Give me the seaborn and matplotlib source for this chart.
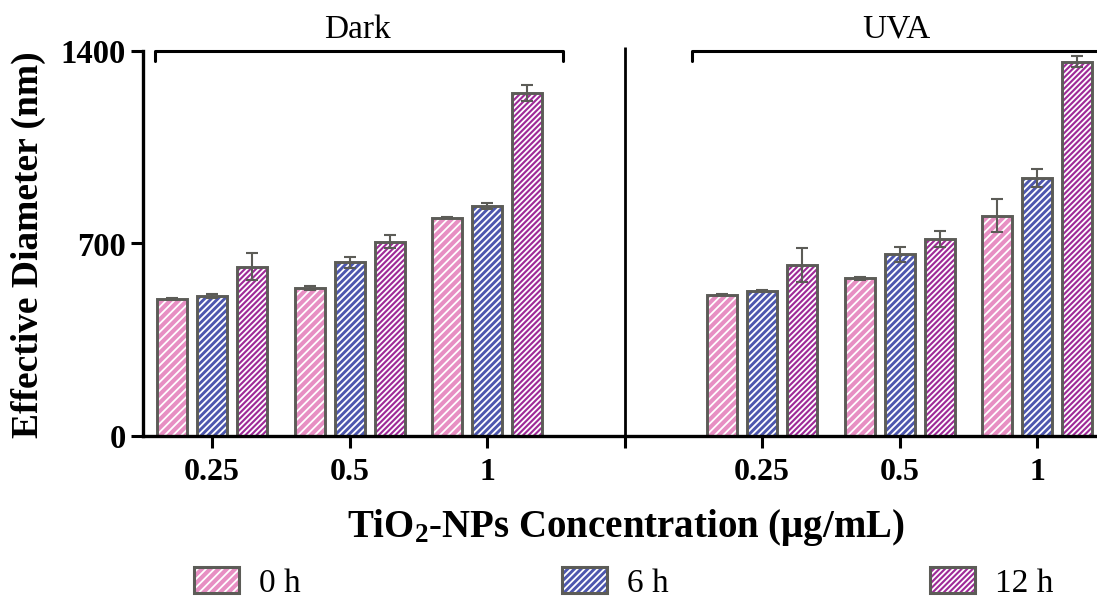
import numpy as np
import pandas as pd
import matplotlib
matplotlib.use("Agg")
import matplotlib.pyplot as plt
import seaborn as sns
from matplotlib.patches import Patch, Rectangle
from matplotlib.legend_handler import HandlerTuple

# ---- data ----
conditions = ["Dark", "Dark", "Dark", "UVA", "UVA", "UVA"]
concentrations = ["0.25", "0.5", "1", "0.25", "0.5", "1"]
times = ["0 h", "6 h", "12 h"]
mean_0h = [498, 539, 794, 513, 573, 801]
mean_6h = [509, 632, 836, 527, 661, 937]
mean_12h = [616, 707, 1248, 622, 716, 1361]
err_0h = [3, 7, 3, 2, 4, 59]
err_6h = [7, 20, 10, 4, 28, 33]
err_12h = [49, 24, 28, 61, 30, 21]
y_ticks = [0, 700, 1400]
x_tick_labels = ["0.25", "0.5", "1", "", "0.25", "0.5", "1"]

colors = ["#e78fc3", "#4d57ae", "#9e2a98"]
hatches = ["////", "/////", "//////"]
edge = "#5c5c57"

sns.set_style("ticks")
plt.rcParams["font.family"] = ["Liberation Serif", "DejaVu Serif"]
plt.rcParams["mathtext.fontset"] = "custom"
plt.rcParams["mathtext.rm"] = "Liberation Serif"
plt.rcParams["mathtext.bf"] = "Liberation Serif:bold"
plt.rcParams["mathtext.it"] = "Liberation Serif:italic"
plt.rcParams["hatch.linewidth"] = 1.3
for k in ["text.color", "axes.labelcolor", "xtick.color", "ytick.color",
          "axes.edgecolor"]:
    plt.rcParams[k] = "black"

groups = [f"{c} {k}" for c, k in zip(conditions, concentrations)]
order = groups[:3] + [""] + groups[3:]
means = [mean_0h, mean_6h, mean_12h]
errs = [err_0h, err_6h, err_12h]
rows = []
for t, m, e in zip(times, means, errs):
    for g, v, ev in zip(groups, m, e):
        rows.append({"group": g, "time": t, "value": v, "err": ev})
df = pd.DataFrame(rows)

fig = plt.figure(figsize=(10.97, 5.98), dpi=100)
ax = fig.add_axes([143 / 1097, 162 / 598, 954 / 1097, 385 / 598])

sns.barplot(data=df, x="group", y="value", hue="time", order=order,
            hue_order=times, palette=colors, width=0.873, gap=0.25,
            errorbar=None, legend=False, ax=ax, saturation=1)

step = 0.873 / 3
bars = [p for p in ax.patches if isinstance(p, Rectangle)]
for p in bars:
    h = p.get_height()
    if not np.isfinite(h) or h == 0:
        continue
    cx = p.get_x() + p.get_width() / 2
    gi = int(round(cx))
    hi = int(round((cx - gi) / step)) + 1
    g = order[gi]
    sel = df[(df.group == g) & (df.time == times[hi])]
    if len(sel) == 0:
        continue
    row = sel.iloc[0]
    p.set_hatch(hatches[hi])
    p.set_edgecolor("white")
    p.set_linewidth(0)
    ax.add_patch(Rectangle((p.get_x(), 0), p.get_width(), h, fill=False,
                           ec=edge, lw=2.1, zorder=p.get_zorder() + 0.2))
    ax.errorbar([cx], [row.value], yerr=[row.err], fmt="none", ecolor=edge,
                elinewidth=1.5, capsize=4, capthick=1.5,
                zorder=p.get_zorder() + 0.4)

ax.set_xlim(-0.502, 6.436)
ax.set_ylim(0, 1400)
ax.set_yticks(y_ticks)
ax.set_yticklabels([str(v) for v in y_ticks], fontsize=23.5, fontweight="bold")
ax.set_xticks(range(len(order)))
ax.set_xticklabels(x_tick_labels, fontsize=23, fontweight="bold")
ax.set_xlabel("")
ax.set_ylabel("")
for s in ["top", "right"]:
    ax.spines[s].set_visible(False)
for s in ["left", "bottom"]:
    ax.spines[s].set_linewidth(2.4)
    ax.spines[s].set_color("black")
ax.tick_params(axis="both", direction="out", length=8.5, width=2.2,
               color="black", labelcolor="black")
ax.tick_params(axis="x", pad=7)
ax.tick_params(axis="y", pad=4)

# separator and brackets
ax.plot([3, 3], [0, 1414], color="black", lw=2.0, clip_on=False,
        solid_capstyle="butt")
ax.plot([-0.415, -0.415, 2.553, 2.553], [1362, 1400, 1400, 1362], color="black",
        lw=2.2, clip_on=False)
ax.plot([3.49, 3.49, 6.7], [1362, 1400, 1400], color="black", lw=2.2,
        clip_on=False)
ax.text(1.06, 1478, "Dark", ha="center", va="center", fontsize=24, color="black")
ax.text(4.98, 1478, "UVA", ha="center", va="center", fontsize=24, color="black")

fig.text(28 / 1097, 1 - 245 / 598, "Effective Diameter (nm)", rotation=90,
         fontsize=27, fontweight="bold", ha="center", va="center", color="black")
fig.text(626 / 1097, 1 - 527 / 598,
         r"TiO$_\mathbf{2}$-NPs Concentration (μg/mL)",
         fontsize=28, fontweight="bold", ha="center", va="center", color="black")

handles = []
for c, h in zip(colors, hatches):
    handles.append((Patch(facecolor=c, edgecolor="white", hatch=h, lw=0),
                    Patch(fill=False, edgecolor=edge, lw=2.2)))
fig.legend(handles=handles, labels=times,
           handler_map={tuple: HandlerTuple(ndivide=1, pad=0)},
           loc="center left", bbox_to_anchor=(194 / 1097, 15 / 598),
           ncol=3, frameon=False, fontsize=24, labelcolor="black",
           handlelength=1.35, handleheight=0.78, handletextpad=0.6,
           columnspacing=7.84, borderpad=0, borderaxespad=0)

fig.savefig("out.png", dpi=100)
